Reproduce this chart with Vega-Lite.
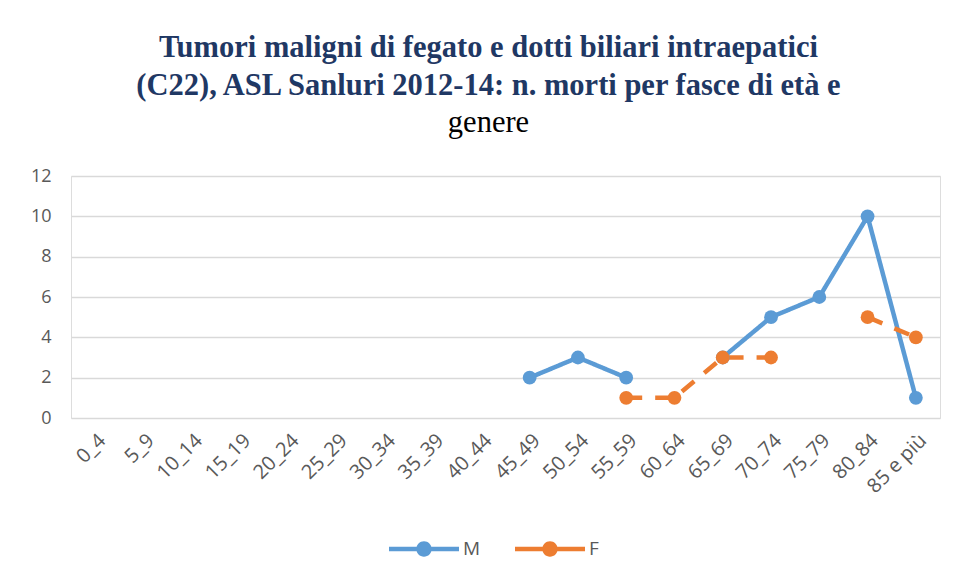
{
  "$schema": "https://vega.github.io/schema/vega-lite/v6.json",
  "width": 869,
  "height": 242,
  "autosize": "none",
  "padding": {"left": 71, "top": 176, "right": 18, "bottom": 160},
  "background": "white",
  "title": {
    "text": ["Tumori maligni di fegato e dotti biliari intraepatici", "(C22), ASL Sanluri 2012-14: n. morti per fasce di età e"],
    "subtitle": "genere",
    "anchor": "middle",
    "frame": "group",
    "dx": -17,
    "font": "Liberation Serif",
    "fontSize": 30.5,
    "fontWeight": "bold",
    "color": "#1F3864",
    "lineHeight": 38,
    "subtitleFont": "Liberation Serif",
    "subtitleFontSize": 30.5,
    "subtitleFontWeight": "normal",
    "subtitleColor": "#000000",
    "subtitlePadding": 6,
    "offset": 29
  },
  "data": {
    "values": [
      {"eta": "45_49", "genere": "M", "morti": 2},
      {"eta": "50_54", "genere": "M", "morti": 3},
      {"eta": "55_59", "genere": "M", "morti": 2},
      {"eta": "60_64", "genere": "M", "morti": null},
      {"eta": "65_69", "genere": "M", "morti": 3},
      {"eta": "70_74", "genere": "M", "morti": 5},
      {"eta": "75_79", "genere": "M", "morti": 6},
      {"eta": "80_84", "genere": "M", "morti": 10},
      {"eta": "85 e più", "genere": "M", "morti": 1},
      {"eta": "55_59", "genere": "F", "morti": 1},
      {"eta": "60_64", "genere": "F", "morti": 1},
      {"eta": "65_69", "genere": "F", "morti": 3},
      {"eta": "70_74", "genere": "F", "morti": 3},
      {"eta": "75_79", "genere": "F", "morti": null},
      {"eta": "80_84", "genere": "F", "morti": 5},
      {"eta": "85 e più", "genere": "F", "morti": 4}
    ]
  },
  "encoding": {
    "x": {
      "field": "eta",
      "type": "ordinal",
      "sort": null,
      "scale": {
        "type": "point",
        "padding": 0.5,
        "domain": ["0_4", "5_9", "10_14", "15_19", "20_24", "25_29", "30_34", "35_39", "40_44", "45_49", "50_54", "55_59", "60_64", "65_69", "70_74", "75_79", "80_84", "85 e più"]
      },
      "axis": {
        "title": null,
        "labelAngle": -45,
        "labelFont": "Open Sans",
        "labelFontSize": 20,
        "labelColor": "#595959",
        "labelPadding": 12,
        "ticks": false,
        "domain": false,
        "grid": false
      }
    },
    "y": {
      "field": "morti",
      "type": "quantitative",
      "scale": {"domain": [0, 12]},
      "axis": {
        "title": null,
        "values": [0, 2, 4, 6, 8, 10, 12],
        "labelFont": "Open Sans",
        "labelFontSize": 18,
        "labelColor": "#595959",
        "labelPadding": 20,
        "ticks": false,
        "domain": false,
        "grid": true,
        "gridColor": "#D9D9D9",
        "gridWidth": 1.3
      }
    },
    "color": {
      "field": "genere",
      "type": "nominal",
      "scale": {"domain": ["M", "F"], "range": ["#5B9BD5", "#ED7D31"]},
      "legend": {
        "title": null,
        "orient": "none",
        "direction": "horizontal",
        "legendX": 318,
        "legendY": 338,
        "symbolType": "M-1,-0.065H-0.2V0.065H-1Z M0.2,-0.065H1V0.065H0.2Z M0.22,0A0.22,0.22,0,1,1,-0.22,0A0.22,0.22,0,1,1,0.22,0Z",
        "symbolSize": 4900,
        "symbolStrokeWidth": 0,
        "labelFont": "Open Sans",
        "labelFontSize": 19,
        "labelColor": "#595959",
        "columnPadding": 34
      }
    }
  },
  "layer": [
    {
      "mark": {"type": "line", "strokeWidth": 4.5, "invalid": "break-paths-show-domains"},
      "encoding": {
        "strokeDash": {
          "field": "genere",
          "type": "nominal",
          "scale": {"domain": ["M", "F"], "range": [[1, 0], [16, 13]]},
          "legend": null
        }
      }
    },
    {
      "mark": {"type": "point", "filled": true, "size": 190, "opacity": 1, "invalid": "filter"}
    }
  ]
}
